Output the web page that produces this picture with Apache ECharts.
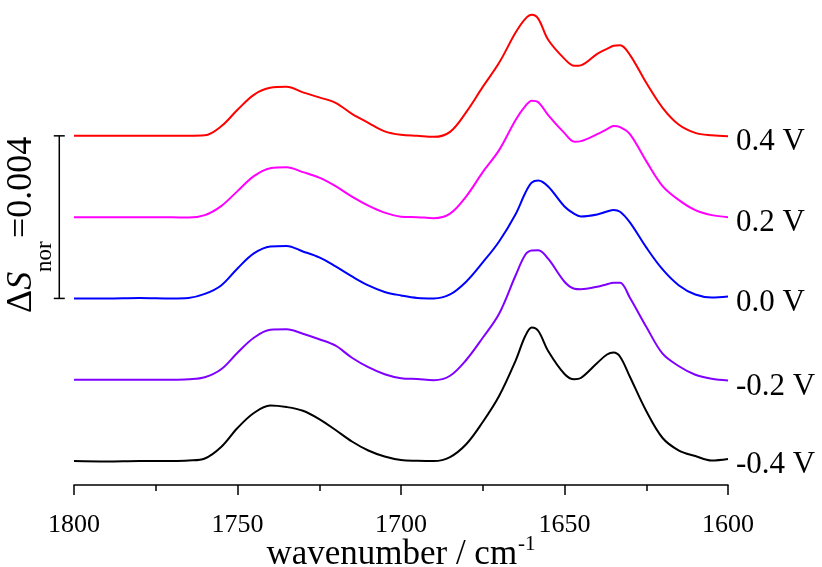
<!DOCTYPE html>
<html>
<head>
<meta charset="utf-8">
<script src="https://cdn.jsdelivr.net/npm/echarts@6/dist/echarts.min.js"></script>
<style>
html,body{margin:0;padding:0;background:#fff;}
#main{width:822px;height:567px;}
</style>
</head>
<body>
<div id="main"></div>
<script>
// wavenumber grid (cm^-1)
const wavenumbers = [1800,1790,1780,1770,1765,1760,1755,1750,1745,1740,1735,1730,1725,1720,1715,1710,1705,1700,1695,1690,1685,1680,1675,1670,1665,1662,1660,1658,1655,1650,1647,1645,1640,1637,1635,1633,1630,1625,1620,1615,1610,1605,1600];

// ΔS_nor values in units of 1e-3 (relative to each trace's own baseline)
const s_p04 = [0,0,0,0,0,0.012,0.234,0.640,1.009,1.181,1.205,1.070,0.947,0.812,0.541,0.320,0.111,0.025,0,-0.025,0.098,0.590,1.205,1.796,2.534,2.878,2.977,2.878,2.362,1.894,1.722,1.734,2.017,2.140,2.214,2.226,1.993,1.304,0.689,0.271,0.074,0.012,-0.012];
const s_p02 = [0,0,0,0,-0.012,0.049,0.271,0.640,1.009,1.205,1.230,1.107,0.972,0.763,0.504,0.283,0.111,0.012,0,-0.025,0.086,0.517,1.107,1.648,2.386,2.731,2.866,2.829,2.509,2.066,1.857,1.870,2.042,2.165,2.239,2.214,2.042,1.378,0.763,0.418,0.172,0.049,0];
const s_00 = [0,0,0.012,0,0.012,0.111,0.320,0.738,1.107,1.279,1.292,1.156,1.009,0.787,0.541,0.320,0.160,0.074,0.012,0,0.098,0.418,0.886,1.402,2.066,2.595,2.854,2.903,2.755,2.263,2.079,2.017,2.066,2.140,2.177,2.133,1.870,1.255,0.713,0.320,0.098,0.025,0.049];
const s_m02 = [0,0,0,0,0.012,0.062,0.258,0.664,1.033,1.230,1.242,1.132,0.996,0.836,0.541,0.308,0.135,0.037,0.017,-0.012,0.098,0.492,1.033,1.624,2.558,3.075,3.181,3.186,2.977,2.411,2.239,2.226,2.288,2.349,2.386,2.386,2.017,1.304,0.640,0.332,0.123,0.025,-0.017];
const s_m04 = [0,-0.012,0,0,0.012,0.062,0.344,0.812,1.181,1.365,1.328,1.237,1.033,0.763,0.480,0.258,0.111,0.025,0.007,0,0.098,0.418,0.959,1.599,2.460,3.075,3.284,3.198,2.706,2.140,2.010,2.042,2.411,2.620,2.669,2.566,2.074,1.230,0.566,0.258,0.123,0.012,0.049];

const potentials = ['0.4 V','0.2 V','0.0 V','-0.2 V','-0.4 V'];
const offsets = [8, 6, 4, 2, 0];           // vertical stacking offsets (1e-3)
const colors = ['#ff0000','#ff00ff','#0000ff','#8000ff','#000000'];
const traces = [s_p04, s_p02, s_00, s_m02, s_m04];

// scale bar: ΔS_nor = 0.004 (from 4 to 8 in 1e-3 units)
const scaleBar = [[1804.5, 4, 8]];
const xTicks = [1800, 1750, 1700, 1650, 1600];

const FONT = '"Liberation Serif","Times New Roman",serif';
const chart = echarts.init(document.getElementById('main'), null, {renderer:'canvas'});

const series = traces.map((vals, k) => ({
  name: potentials[k],
  type: 'line',
  data: wavenumbers.map((w, i) => [w, vals[i] + offsets[k]]),
  showSymbol: false,
  smooth: 0.35,
  lineStyle: {color: colors[k], width: 2},
  itemStyle: {color: colors[k]},
  clip: false,
  endLabel: {
    show: true,
    formatter: '{a}',
    distance: 0,
    align: 'left',
    verticalAlign: 'middle',
    offset: [8, 6],
    color: '#000',
    fontSize: 31,
    fontFamily: FONT
  },
  z: 3
}));

series.push({
  type: 'custom',
  data: scaleBar,
  clip: false,
  silent: true,
  renderItem: function (params, api) {
    const p0 = api.coord([api.value(0), api.value(1)]);
    const p1 = api.coord([api.value(0), api.value(2)]);
    const hw = 5.5;
    const st = {stroke: '#000', lineWidth: 1.5};
    return {
      type: 'group',
      children: [
        {type: 'line', shape: {x1: p0[0], y1: p0[1], x2: p1[0], y2: p1[1]}, style: st},
        {type: 'line', shape: {x1: p0[0]-hw, y1: p0[1], x2: p0[0]+hw, y2: p0[1]}, style: st},
        {type: 'line', shape: {x1: p1[0]-hw, y1: p1[1], x2: p1[0]+hw, y2: p1[1]}, style: st}
      ]
    };
  }
});

const option = {
  animation: false,
  backgroundColor: '#fff',
  grid: {left: 74, right: 94, top: 1.7, bottom: 82, containLabel: false, outerBoundsMode: 'none'},
  xAxis: {
    type: 'value',
    min: 1600, max: 1800, interval: 50,
    inverse: true,
    name: '{a|wavenumber / cm}{s|-1}',
    nameLocation: 'middle',
    nameGap: 49,
    nameMoveOverlap: false,
    nameTextStyle: {
      rich: {
        a: {fontSize: 35, fontFamily: FONT, color: '#000', lineHeight: 38, verticalAlign: 'bottom'},
        s: {fontSize: 21, fontFamily: FONT, color: '#000', lineHeight: 38, verticalAlign: 'top', padding:[0,0,0,1]}
      }
    },
    axisLine: {show: true, onZero: false, lineStyle: {color: '#000', width: 1.5}},
    axisTick: {show: true, inside: false, length: 10, lineStyle: {color: '#000', width: 1.5}},
    minorTick: {show: true, splitNumber: 2, length: 6, lineStyle: {color: '#000', width: 1.5}},
    splitLine: {show: false},
    minorSplitLine: {show: false},
    axisLabel: {
      color: '#000', fontSize: 26, fontFamily: FONT, margin: 27, lineHeight: 26,
      formatter: v => xTicks.indexOf(v) >= 0 ? String(v) : ''
    }
  },
  yAxis: {
    type: 'value',
    min: -0.59, max: 11.3,
    show: false,
    splitLine: {show: false}
  },
  graphic: [
    {
      type: 'text', x: 22, y: 313, rotation: Math.PI/2,
      style: {
        text: '{a|Δ}{b|S}', align: 'left', verticalAlign: 'middle',
        rich: {
          a: {fontSize: 36, fontFamily: FONT, fill: '#000'},
          b: {fontSize: 36, fontFamily: FONT, fontStyle: 'italic', fill: '#000'}
        }
      }
    },
    {
      type: 'text', x: 45, y: 272, rotation: Math.PI/2,
      style: {text: 'nor', align: 'left', verticalAlign: 'middle', fontSize: 23, fontFamily: FONT, fill: '#000'}
    },
    {
      type: 'text', x: 22, y: 238, rotation: Math.PI/2,
      style: {text: '=0.004', align: 'left', verticalAlign: 'middle', fontSize: 36, fontFamily: FONT, fill: '#000'}
    }
  ],
  series: series
};
chart.setOption(option);
</script>
</body>
</html>
